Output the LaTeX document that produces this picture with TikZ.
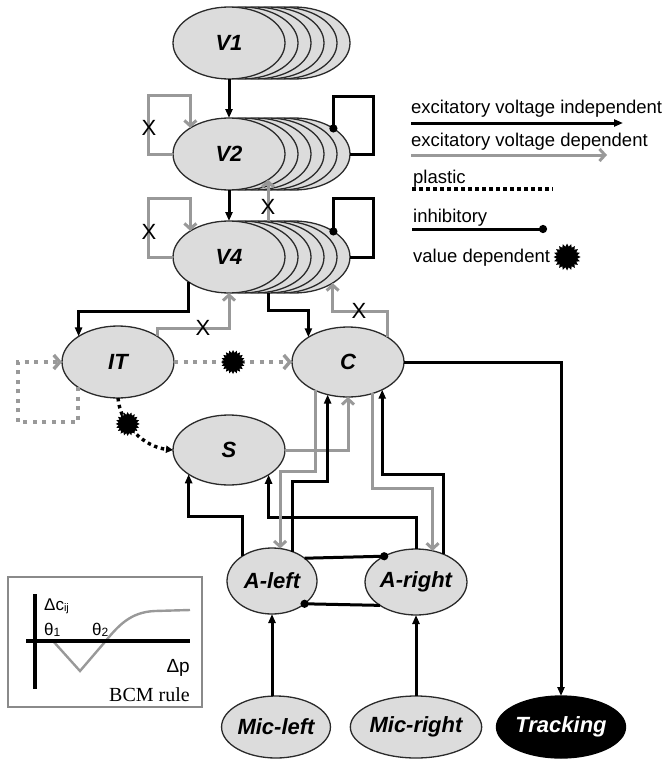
\documentclass[tikz,border=0pt]{standalone}
\usepackage{fontspec}
\setmainfont{Liberation Sans}
\newfontfamily\tmsfont{Liberation Serif}
\usetikzlibrary{shapes.geometric,arrows.meta,calc}
\definecolor{ellfill}{HTML}{DCDCDC}
\definecolor{lgray}{HTML}{999999}
\definecolor{edgec}{HTML}{2A2A2A}
\definecolor{bcmgray}{HTML}{8A8A8A}
\begin{document}
\begin{tikzpicture}[x=1pt,y=-1pt,
  ell/.style={ellipse, draw=edgec, line width=1.3pt, fill=ellfill, inner sep=0pt, outer sep=0pt,
    font=\fontsize{22}{22}\selectfont\bfseries\itshape},
  big/.style={ell, minimum width=112pt, minimum height=72pt},
  bk/.style={draw=black, line width=3pt, -{Triangle[length=9pt,width=7pt]}},
  gy/.style={draw=lgray, line width=3pt, -{Straight Barb[length=5.5pt,width=12pt]}},
  inh/.style={draw=black, line width=3pt, -{Circle[length=8pt]}, shorten >=-4pt},
  gdot/.style={draw=lgray, line width=4pt, dash pattern=on 4pt off 5.5pt,
    -{Straight Barb[length=6pt,width=14pt,line width=3.4pt]}},
  bdot/.style={draw=black, line width=3.4pt, dash pattern=on 3.4pt off 3.6pt, -{Triangle[length=7pt,width=7pt]}},
  burst/.style={star, star points=20, star point ratio=1.3, fill=black, draw=none, minimum size=24pt, inner sep=0pt},
  xmark/.style={font=\fontsize{22}{22}\selectfont, inner sep=0pt},
  lg/.style={font=\fontsize{18.5}{18.5}\selectfont, anchor=base west, inner sep=0pt}
]
\useasboundingbox (0,0) rectangle (665,760);

% ---- stacked populations
\foreach \k in {5,4,3,2,1} {
  \node[big] (V1s\k) at (229+13*\k, 43) {};
}
\node[big] (V1) at (229,43) {V1};
\foreach \k in {5,4,3,2,1} {
  \node[big] (V2s\k) at (229+13*\k, 154) {};
}
\node[big] (V2) at (229,154) {V2};
\foreach \k in {5,4,3,2,1} {
  \node[big] (V4s\k) at (229+13*\k, 257) {};
}
\node[big] (V4) at (229,257) {V4};

% ---- other nodes
\node[big] (IT) at (118,362) {IT};
\node[ell, minimum width=112pt, minimum height=70pt] (C) at (348,362) {C};
\node[ell, minimum width=112pt, minimum height=70pt] (S) at (229,450) {S};
\node[ell, minimum width=90pt, minimum height=66pt] (Aleft) at (272,581) {A-left};
\node[ell, minimum width=88pt, minimum height=66pt] (Aright) at (416,582) {A-right};
\node[ell, minimum width=100pt, minimum height=62pt] (Micleft) at (276,727) {Mic-left};
\node[ell, minimum width=102pt, minimum height=62pt] (Micright) at (416,727) {Mic-right};
\node[ell, minimum width=102pt, minimum height=62pt, fill=black, draw=black, text=white] (Tracking) at (561,727) {Tracking};

% ---- feedforward
\draw[bk] (V1.south) -- (V2.north);
\draw[bk] (V2.south) -- (V4.north);
\draw[gy] (V4s3.north) -- (V4s3.north |- V2.-33.5);
\node[xmark] (x3) at (268,207) {X};

% ---- self loops left (gray, voltage dependent)
\draw[gy] (V2.west) -| ++(-25,-59) -| (V2.146.5);
\node[xmark] (x1) at (149,128) {X};
\draw[gy] (V4.west) -| ++(-25,-59) -| (V4.146.5);
\node[xmark] (x2) at (149,232) {X};

% ---- inhibitory self loops right
\draw[inh] (V2s5.east) -| ++(23,-58) -| (V2s5.33.5);
\draw[inh] (V4s5.east) -| ++(23,-59) -| (V4s5.33.5);

% ---- V4 <-> IT, C
\draw[bk] (V4.212.8) -- ++(0,29) -| (IT.147.8);
\draw[bk] (V4s3.south) -- ++(0,17) -| (C.148.5);
\draw[gy] (IT.33.5) -- ++(0,-8) -| (V4.south);
\node[xmark] (x4) at (203,328) {X};
\draw[gy] (C.32.8) -- ++(0,-26) -| (V4s5.-34.8);
\node[xmark] (x5) at (359,311) {X};

% ---- plastic / value dependent
\draw[gdot] (IT.212.2) |- (18,422) |- (IT.west);
\draw[gdot] (IT.east) -- (C.west);
\node[burst] (vd1) at (233,362) {};
\draw[bdot] (IT.south) .. controls (120,425) and (145,447) .. (S.west)
  node[burst, pos=0.35] (vd2) {};

% ---- C -> Tracking
\draw[bk] (C.east) -| (Tracking.north);

% ---- auditory
\draw[bk] (Aleft.south |- Micleft.north) -- (Aleft.south);
\draw[bk] (Micright.north) -- (Aright.south);
\draw[inh] (Aleft.35.5) -- (Aright.141.5);
\draw[inh] (Aright.213.9) -- (Aleft.-35.5);
\draw[bk] (Aleft.140.6) -- ++(0,-39.4) -| (S.211.5);
\draw[bk] (Aright.north) -- ++(0,-32) -| (S.-32.8);
\draw[gy] (S.east) -| (C.south);
\draw[gy] (C.221.9) -- ++(0,81.3) -| (Aleft.76.2);
\draw[bk] (Aleft.55.9) -- ++(0,-70.4) -| (C.238.5);
\draw[gy] (C.-52.8) -- ++(0,95.4) -| (Aright.62.5);
\draw[bk] (Aright.45.7) -- ++(0,-79.4) -| (C.-39.3);

% ---- legend
\node[lg] (lg1) at (411,113) {excitatory voltage independent};
\coordinate (l1a) at (411,123); \coordinate (l1b) at (623,123);
\draw[bk] (l1a) -- (l1b);
\node[lg] (lg2) at (411,146) {excitatory voltage dependent};
\coordinate (l2a) at (411,155); \coordinate (l2b) at (607,155);
\draw[gy] (l2a) -- (l2b);
\node[lg] (lg3) at (413,183) {plastic};
\coordinate (l3a) at (412,189); \coordinate (l3b) at (553,189);
\draw[draw=black, line width=3.8pt, dash pattern=on 3.8pt off 3.2pt] (l3a) -- (l3b);
\node[lg] (lg4) at (413,222) {inhibitory};
\coordinate (l4a) at (412,229); \coordinate (l4b) at (543,229);
\draw[inh] (l4a) -- (l4b);
\node[lg] (lg5) at (413,262) {value dependent};
\node[burst, minimum size=27pt] (vd3) at (567,257) {};

% ---- BCM inset
\draw[draw=bcmgray, line width=2.4pt] (8,577) rectangle (202,707);
\draw[lgray, line width=2.4pt] (53,641) -- (80,671) -- (104,643) .. controls (118,626) and (130,612) .. (155,611) -- (190,610);
\draw[line width=3.4pt] (35,594) -- (35,689);
\draw[line width=3.4pt] (26,641) -- (190,641);
\node[anchor=base west, inner sep=0pt, font=\fontsize{17}{17}\selectfont] (dc) at (44,610) {Δc\raisebox{-1.5pt}{\fontsize{11}{11}\selectfont ij}};
\node[anchor=base west, inner sep=0pt, font=\fontsize{17}{17}\selectfont] (th1) at (44,635) {θ\raisebox{-1pt}{\fontsize{12}{12}\selectfont 1}};
\node[anchor=base west, inner sep=0pt, font=\fontsize{17}{17}\selectfont] (th2) at (92,635) {θ\raisebox{-1pt}{\fontsize{12}{12}\selectfont 2}};
\node[anchor=base east, inner sep=0pt, font=\fontsize{19}{19}\selectfont] (dp) at (190,672) {Δp};
\node[anchor=base east, inner sep=0pt, font=\fontsize{20}{20}\selectfont\tmsfont] (bcm) at (190,701) {BCM rule};
\end{tikzpicture}
\end{document}
